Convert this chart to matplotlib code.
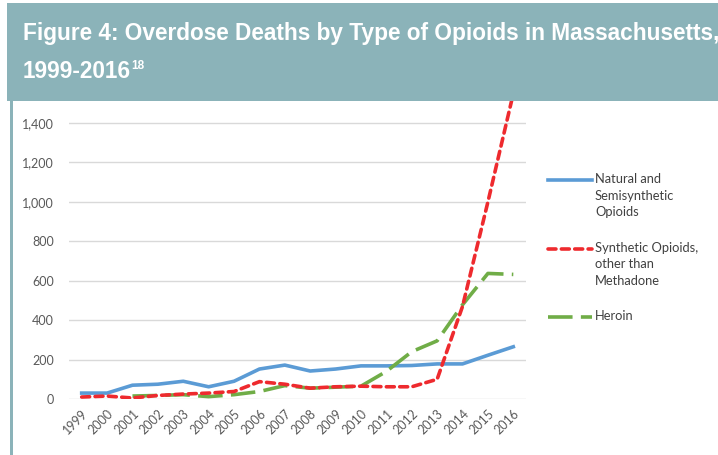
import matplotlib.pyplot as plt
from matplotlib.patches import Rectangle
from matplotlib.lines import Line2D

years = list(range(1999, 2017))

natural = [30, 30, 70, 75, 90, 62, 90, 152, 172, 142, 152, 168, 168, 170, 178, 178, 222, 265]
synthetic = [10, 15, 5, 18, 25, 30, 38, 88, 75, 55, 62, 65, 62, 62, 100, 470, 1000, 1550]
# heroin counts are suppressed for 1999-2000
heroin_years = years[2:]
heroin = [15, 18, 22, 12, 22, 38, 68, 55, 60, 65, 140, 240, 295, 478, 637, 632]

series_names = ["Natural and\nSemisynthetic\nOpioids",
                "Synthetic Opioids,\nother than\nMethadone",
                "Heroin"]

yticks = [0, 200, 400, 600, 800, 1000, 1200, 1400]

W, H = 718, 455
teal = "#8bb3b9"
blue = "#5b9bd5"
red = "#ee2a2e"
green = "#70ad47"
gray_txt = "#595959"

fig = plt.figure(figsize=(W / 100, H / 100), dpi=100)
fig.patch.set_facecolor("white")

ax = fig.add_axes([69 / W, 56 / H, (526 - 69) / W, (399 - 83.6) / H])
ax.set_xlim(1998.5, 2016.5)
ax.set_ylim(0, 1600)

lw = 2.6
red_dash = (2.2, 1.5)
green_dash = (6.8, 2.3)
ax.plot(years, natural, color=blue, lw=lw, solid_joinstyle="round", zorder=3)
ax.plot(years, synthetic, color=red, lw=lw, dashes=red_dash,
        dash_capstyle="round", dash_joinstyle="round", zorder=4)
ax.plot(heroin_years, heroin, color=green, lw=lw, dashes=green_dash,
        dash_capstyle="butt", zorder=3)

ax.set_yticks(yticks)
ax.set_yticklabels([f"{v:,}" for v in yticks], fontsize=9, color=gray_txt,
                   family="Lato")
ax.set_xticks(years)
ax.set_xticklabels([str(y) for y in years], rotation=45, ha="right",
                   rotation_mode="anchor", fontsize=9, color=gray_txt,
                   family="Lato")
ax.tick_params(axis="both", length=0)
ax.tick_params(axis="y", pad=11)
ax.tick_params(axis="x", pad=6)
ax.grid(axis="y", color="#d9d9d9", lw=1)
ax.set_axisbelow(True)
for s in ax.spines.values():
    s.set_visible(False)

# legend drawn by hand so the sample lines sit on the first text line
entries = [(blue, None, 180), (red, red_dash, 249), (green, green_dash, 317)]
for (col, dsh, yy), name in zip(entries, series_names):
    ln = Line2D([548 / W, 592 / W], [1 - yy / H, 1 - yy / H], transform=fig.transFigure,
                color=col, lw=lw, zorder=5)
    if dsh is not None:
        ln.set_dashes(dsh)
        ln.set_dash_capstyle("round" if col == red else "butt")
    fig.add_artist(ln)
    fig.text(595 / W, 1 - (yy - 7) / H, name, ha="left", va="top", fontsize=9.3,
             color="#404040", family="Lato", linespacing=1.45)

# header band and left border
fig.add_artist(Rectangle((7 / W, 1 - 101 / H), 1 - 7 / W, 98 / H,
                         transform=fig.transFigure, facecolor=teal,
                         edgecolor="none", zorder=10))
fig.add_artist(Rectangle((10 / W, 0), 3 / W, 1 - 101 / H,
                         transform=fig.transFigure, facecolor=teal,
                         edgecolor="none", zorder=10))

title_kw = dict(ha="left", va="baseline", fontsize=16.3, fontweight="bold",
                color="white", family="Liberation Sans", zorder=11)
fig.text(23 / W, 1 - 40 / H,
         "Figure 4: Overdose Deaths by Type of Opioids in Massachusetts,",
         **title_kw)
fig.text(23 / W, 1 - 78 / H, "1999-2016", **title_kw)
fig.text(131 / W, 1 - 69 / H, "18", ha="left", va="baseline", fontsize=8.5,
         fontweight="bold", color="white", family="Liberation Sans", zorder=11)

fig.savefig("out.png", dpi=100)
